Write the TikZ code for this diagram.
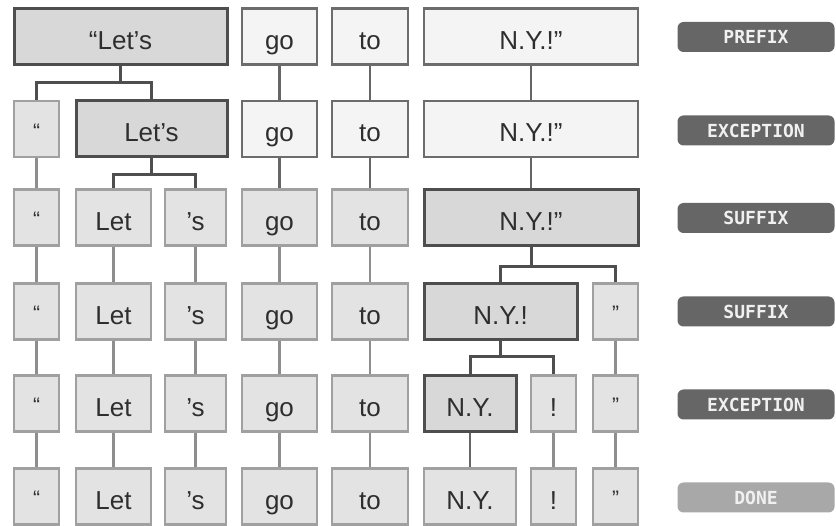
\documentclass[tikz,border=0pt]{standalone}
\usepackage{fontspec}
\setmainfont{Liberation Sans}
\newfontfamily\badgefont{DejaVu Sans Mono}
\definecolor{txt}{HTML}{2E2E2E}
\definecolor{newfill}{HTML}{F4F4F4}
\definecolor{newdraw}{HTML}{6C6C6C}
\definecolor{tokfill}{HTML}{E3E3E3}
\definecolor{tokdraw}{HTML}{A0A0A0}
\definecolor{actfill}{HTML}{D8D8D8}
\definecolor{actdraw}{HTML}{4E4E4E}
\definecolor{splitc}{HTML}{4E4E4E}
\definecolor{passdark}{HTML}{666666}
\definecolor{passlight}{HTML}{8E8E8E}
\definecolor{badgedark}{HTML}{666666}
\definecolor{badgelight}{HTML}{A8A8A8}
\definecolor{badgetxt}{HTML}{F0F0F0}
\tikzset{
  boxbase/.style={draw, line width=2.5pt, inner sep=0pt, text=txt,
    font=\fontsize{26}{30}\selectfont, text height=28pt, text depth=2pt,
    minimum height=56pt},
  newbox/.style={boxbase, fill=newfill, draw=newdraw},
  tokbox/.style={boxbase, fill=tokfill, draw=tokdraw},
  actbox/.style={boxbase, fill=actfill, draw=actdraw, line width=3pt},
  qt/.style={font=\fontsize{21}{24}\selectfont, text height=21pt, text depth=2pt},
  splitline/.style={draw=splitc, line width=3pt},
  passd/.style={draw=passdark, line width=2.5pt},
  passl/.style={draw=passlight, line width=2.5pt},
  badge/.style={rounded corners=6pt, minimum width=157pt, minimum height=30pt,
    inner sep=0pt, text=badgetxt, font=\badgefont\bfseries\fontsize{18}{21}\selectfont},
}
\begin{document}
\begin{tikzpicture}[x=1pt,y=-1pt]
\useasboundingbox (0,0) rectangle (836,526);
% Row 1
\node[actbox, minimum width=213pt] (r1a) at (120.5,36.5) {“Let’s};
\node[newbox, minimum width=75pt] (r1go) at (279.5,36.5) {go};
\node[newbox, minimum width=76pt] (r1to) at (370,36.5) {to};
\node[newbox, minimum width=214pt] (r1ny) at (531,36.5) {N.Y.!”};
% Row 2
\node[tokbox, qt, minimum width=45pt] (r2q) at (36.5,129) {“};
\node[actbox, minimum width=151pt] (r2l) at (151.5,129) {Let’s};
\node[newbox, minimum width=75pt] (r2go) at (279.5,129) {go};
\node[newbox, minimum width=76pt] (r2to) at (370,129) {to};
\node[newbox, minimum width=214pt] (r2ny) at (531,129) {N.Y.!”};
% Row 3
\node[tokbox, qt, minimum width=45pt] (r3q) at (36.5,217.5) {“};
\node[tokbox, minimum width=75pt] (r3l) at (113.5,217.5) {Let};
\node[tokbox, minimum width=61pt] (r3s) at (195.5,217.5) {’s};
\node[tokbox, minimum width=75pt] (r3go) at (279.5,217.5) {go};
\node[tokbox, minimum width=76pt] (r3to) at (370,217.5) {to};
\node[actbox, minimum width=214pt] (r3ny) at (531,217.5) {N.Y.!”};
% Row 4
\node[tokbox, qt, minimum width=45pt] (r4q) at (36.5,311.5) {“};
\node[tokbox, minimum width=75pt] (r4l) at (113.5,311.5) {Let};
\node[tokbox, minimum width=61pt] (r4s) at (195.5,311.5) {’s};
\node[tokbox, minimum width=75pt] (r4go) at (279.5,311.5) {go};
\node[tokbox, minimum width=76pt] (r4to) at (370,311.5) {to};
\node[actbox, minimum width=153pt] (r4ny) at (500.5,311.5) {N.Y.!};
\node[tokbox, qt, minimum width=45pt] (r4e) at (615.5,311.5) {”};
% Row 5
\node[tokbox, qt, minimum width=45pt] (r5q) at (36.5,403.5) {“};
\node[tokbox, minimum width=75pt] (r5l) at (113.5,403.5) {Let};
\node[tokbox, minimum width=61pt] (r5s) at (195.5,403.5) {’s};
\node[tokbox, minimum width=75pt] (r5go) at (279.5,403.5) {go};
\node[tokbox, minimum width=76pt] (r5to) at (370,403.5) {to};
\node[actbox, minimum width=92pt] (r5ny) at (470,403.5) {N.Y.};
\node[tokbox, minimum width=45pt] (r5x) at (553.5,403.5) {!};
\node[tokbox, qt, minimum width=45pt] (r5e) at (615.5,403.5) {”};
% Row 6
\node[tokbox, qt, minimum width=45pt] (r6q) at (36.5,496.5) {“};
\node[tokbox, minimum width=75pt] (r6l) at (113.5,496.5) {Let};
\node[tokbox, minimum width=61pt] (r6s) at (195.5,496.5) {’s};
\node[tokbox, minimum width=75pt] (r6go) at (279.5,496.5) {go};
\node[tokbox, minimum width=76pt] (r6to) at (370,496.5) {to};
\node[tokbox, minimum width=92pt] (r6ny) at (470,496.5) {N.Y.};
\node[tokbox, minimum width=45pt] (r6x) at (553.5,496.5) {!};
\node[tokbox, qt, minimum width=45pt] (r6e) at (615.5,496.5) {”};
% split junctions
\coordinate (j1) at (120.5,83);
\coordinate (j2) at (151.5,175);
\coordinate (j3) at (531,267);
\coordinate (j4) at (500.5,357);
% connectors row 1 -> 2
\draw[splitline] (r1a.south) -- (j1);
\draw[splitline] (r2q.north) |- (j1) -| (r2l.north);
\draw[passd] (r1go) -- (r2go);
\draw[passd] (r1to) -- (r2to);
\draw[passd] (r1ny) -- (r2ny);
% row 2 -> 3
\draw[passl] (r2q) -- (r3q);
\draw[splitline] (r2l.south) -- (j2);
\draw[splitline] (r3l.north) |- (j2) -| (r3s.north);
\draw[passd] (r2go) -- (r3go);
\draw[passd] (r2to) -- (r3to);
\draw[passd] (r2ny) -- (r3ny);
% row 3 -> 4
\draw[passl] (r3q) -- (r4q);
\draw[passl] (r3l) -- (r4l);
\draw[passl] (r3s) -- (r4s);
\draw[passl] (r3go) -- (r4go);
\draw[passl] (r3to) -- (r4to);
\draw[splitline] (r3ny.south) -- (j3);
\draw[splitline] (r4ny.north) |- (j3) -| (r4e.north);
% row 4 -> 5
\draw[passl] (r4q) -- (r5q);
\draw[passl] (r4l) -- (r5l);
\draw[passl] (r4s) -- (r5s);
\draw[passl] (r4go) -- (r5go);
\draw[passl] (r4to) -- (r5to);
\draw[splitline] (r4ny.south) -- (j4);
\draw[splitline] (r5ny.north) |- (j4) -| (r5x.north);
\draw[passl] (r4e) -- (r5e);
% row 5 -> 6
\draw[passl] (r5q) -- (r6q);
\draw[passl] (r5l) -- (r6l);
\draw[passl] (r5s) -- (r6s);
\draw[passl] (r5go) -- (r6go);
\draw[passl] (r5to) -- (r6to);
\draw[passd] (r5ny) -- (r6ny);
\draw[passl] (r5x) -- (r6x);
\draw[passl] (r5e) -- (r6e);
% badges
\node[badge, fill=badgedark] (b1) at (756,37) {PREFIX};
\node[badge, fill=badgedark] (b2) at (756,130.5) {EXCEPTION};
\node[badge, fill=badgedark] (b3) at (756,218) {SUFFIX};
\node[badge, fill=badgedark] (b4) at (756,311.5) {SUFFIX};
\node[badge, fill=badgedark] (b5) at (756,404.5) {EXCEPTION};
\node[badge, fill=badgelight] (b6) at (756,497.5) {DONE};
\end{tikzpicture}
\end{document}
